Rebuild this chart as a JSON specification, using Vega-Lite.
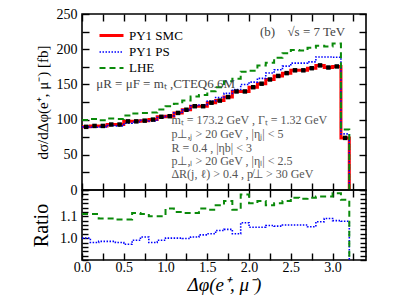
{
  "$schema": "https://vega.github.io/schema/vega-lite/v6.json",
  "padding": {"left": 30, "top": 6, "right": 5, "bottom": 5},
  "datasets": {
    "hist": [
      {"series": "PY1 SMC", "x": 0.0, "mid": 0.05, "v": 89.7},
      {"series": "PY1 SMC", "x": 0.1, "mid": 0.15, "v": 91},
      {"series": "PY1 SMC", "x": 0.2, "mid": 0.25, "v": 91},
      {"series": "PY1 SMC", "x": 0.3, "mid": 0.35, "v": 93},
      {"series": "PY1 SMC", "x": 0.4, "mid": 0.45, "v": 93},
      {"series": "PY1 SMC", "x": 0.5, "mid": 0.55, "v": 97.5},
      {"series": "PY1 SMC", "x": 0.6, "mid": 0.65, "v": 97.5},
      {"series": "PY1 SMC", "x": 0.7, "mid": 0.75, "v": 98.5},
      {"series": "PY1 SMC", "x": 0.8, "mid": 0.85, "v": 100},
      {"series": "PY1 SMC", "x": 0.9, "mid": 0.95, "v": 104},
      {"series": "PY1 SMC", "x": 1.0, "mid": 1.05, "v": 104.8},
      {"series": "PY1 SMC", "x": 1.1, "mid": 1.15, "v": 109.5},
      {"series": "PY1 SMC", "x": 1.2, "mid": 1.25, "v": 114},
      {"series": "PY1 SMC", "x": 1.3, "mid": 1.35, "v": 119},
      {"series": "PY1 SMC", "x": 1.4, "mid": 1.45, "v": 119},
      {"series": "PY1 SMC", "x": 1.5, "mid": 1.55, "v": 124},
      {"series": "PY1 SMC", "x": 1.6, "mid": 1.65, "v": 127},
      {"series": "PY1 SMC", "x": 1.7, "mid": 1.75, "v": 132},
      {"series": "PY1 SMC", "x": 1.8, "mid": 1.85, "v": 140},
      {"series": "PY1 SMC", "x": 1.9, "mid": 1.95, "v": 140},
      {"series": "PY1 SMC", "x": 2.0, "mid": 2.05, "v": 146},
      {"series": "PY1 SMC", "x": 2.1, "mid": 2.15, "v": 151},
      {"series": "PY1 SMC", "x": 2.2, "mid": 2.25, "v": 157},
      {"series": "PY1 SMC", "x": 2.3, "mid": 2.35, "v": 162},
      {"series": "PY1 SMC", "x": 2.4, "mid": 2.45, "v": 166},
      {"series": "PY1 SMC", "x": 2.5, "mid": 2.55, "v": 170},
      {"series": "PY1 SMC", "x": 2.6, "mid": 2.65, "v": 170},
      {"series": "PY1 SMC", "x": 2.7, "mid": 2.75, "v": 173},
      {"series": "PY1 SMC", "x": 2.8, "mid": 2.85, "v": 177},
      {"series": "PY1 SMC", "x": 2.9, "mid": 2.95, "v": 174},
      {"series": "PY1 SMC", "x": 3.0, "mid": 3.05, "v": 175.5},
      {"series": "PY1 SMC", "x": 3.1, "mid": 3.15, "v": 74},
      {"series": "PY1 SMC", "x": 3.2, "v": 0},
      {"series": "PY1 PS", "x": 0.0, "v": 89.7},
      {"series": "PY1 PS", "x": 0.1, "v": 89.2},
      {"series": "PY1 PS", "x": 0.2, "v": 89.6},
      {"series": "PY1 PS", "x": 0.3, "v": 91.6},
      {"series": "PY1 PS", "x": 0.4, "v": 91.1},
      {"series": "PY1 PS", "x": 0.5, "v": 94.8},
      {"series": "PY1 PS", "x": 0.6, "v": 96.5},
      {"series": "PY1 PS", "x": 0.7, "v": 99},
      {"series": "PY1 PS", "x": 0.8, "v": 98},
      {"series": "PY1 PS", "x": 0.9, "v": 103},
      {"series": "PY1 PS", "x": 1.0, "v": 104.8},
      {"series": "PY1 PS", "x": 1.1, "v": 109.5},
      {"series": "PY1 PS", "x": 1.2, "v": 113.8},
      {"series": "PY1 PS", "x": 1.3, "v": 119.6},
      {"series": "PY1 PS", "x": 1.4, "v": 120.8},
      {"series": "PY1 PS", "x": 1.5, "v": 126.5},
      {"series": "PY1 PS", "x": 1.6, "v": 131.4},
      {"series": "PY1 PS", "x": 1.7, "v": 137.3},
      {"series": "PY1 PS", "x": 1.8, "v": 142.8},
      {"series": "PY1 PS", "x": 1.9, "v": 149.8},
      {"series": "PY1 PS", "x": 2.0, "v": 153.3},
      {"series": "PY1 PS", "x": 2.1, "v": 158.6},
      {"series": "PY1 PS", "x": 2.2, "v": 166.1},
      {"series": "PY1 PS", "x": 2.3, "v": 170.9},
      {"series": "PY1 PS", "x": 2.4, "v": 176},
      {"series": "PY1 PS", "x": 2.5, "v": 180.2},
      {"series": "PY1 PS", "x": 2.6, "v": 180.2},
      {"series": "PY1 PS", "x": 2.7, "v": 182},
      {"series": "PY1 PS", "x": 2.8, "v": 189},
      {"series": "PY1 PS", "x": 2.9, "v": 189},
      {"series": "PY1 PS", "x": 3.0, "v": 188.5},
      {"series": "PY1 PS", "x": 3.1, "v": 79.7},
      {"series": "PY1 PS", "x": 3.2, "v": 0},
      {"series": "LHE", "x": 0.0, "v": 99.6},
      {"series": "LHE", "x": 0.1, "v": 101},
      {"series": "LHE", "x": 0.2, "v": 99.2},
      {"series": "LHE", "x": 0.3, "v": 101.4},
      {"series": "LHE", "x": 0.4, "v": 100.9},
      {"series": "LHE", "x": 0.5, "v": 105.8},
      {"series": "LHE", "x": 0.6, "v": 108.7},
      {"series": "LHE", "x": 0.7, "v": 109.3},
      {"series": "LHE", "x": 0.8, "v": 110},
      {"series": "LHE", "x": 0.9, "v": 114.4},
      {"series": "LHE", "x": 1.0, "v": 119},
      {"series": "LHE", "x": 1.1, "v": 122.6},
      {"series": "LHE", "x": 1.2, "v": 127.1},
      {"series": "LHE", "x": 1.3, "v": 132.7},
      {"series": "LHE", "x": 1.4, "v": 135.1},
      {"series": "LHE", "x": 1.5, "v": 140.1},
      {"series": "LHE", "x": 1.6, "v": 146.1},
      {"series": "LHE", "x": 1.7, "v": 154.4},
      {"series": "LHE", "x": 1.8, "v": 158.2},
      {"series": "LHE", "x": 1.9, "v": 168},
      {"series": "LHE", "x": 2.0, "v": 169.4},
      {"series": "LHE", "x": 2.1, "v": 176.7},
      {"series": "LHE", "x": 2.2, "v": 180.6},
      {"series": "LHE", "x": 2.3, "v": 187.9},
      {"series": "LHE", "x": 2.4, "v": 194.2},
      {"series": "LHE", "x": 2.5, "v": 199},
      {"series": "LHE", "x": 2.6, "v": 198},
      {"series": "LHE", "x": 2.7, "v": 202},
      {"series": "LHE", "x": 2.8, "v": 205},
      {"series": "LHE", "x": 2.9, "v": 204},
      {"series": "LHE", "x": 3.0, "v": 208},
      {"series": "LHE", "x": 3.1, "v": 86},
      {"series": "LHE", "x": 3.2, "v": 0}
    ],
    "ratio": [
      {"series": "PY1 PS", "x": 0.0, "r": 1.0},
      {"series": "PY1 PS", "x": 0.1, "r": 0.98},
      {"series": "PY1 PS", "x": 0.2, "r": 0.985},
      {"series": "PY1 PS", "x": 0.3, "r": 0.985},
      {"series": "PY1 PS", "x": 0.4, "r": 0.98},
      {"series": "PY1 PS", "x": 0.5, "r": 0.972},
      {"series": "PY1 PS", "x": 0.6, "r": 0.99},
      {"series": "PY1 PS", "x": 0.7, "r": 1.005},
      {"series": "PY1 PS", "x": 0.8, "r": 0.98},
      {"series": "PY1 PS", "x": 0.9, "r": 0.99},
      {"series": "PY1 PS", "x": 1.0, "r": 1.0},
      {"series": "PY1 PS", "x": 1.1, "r": 1.0},
      {"series": "PY1 PS", "x": 1.2, "r": 0.998},
      {"series": "PY1 PS", "x": 1.3, "r": 1.005},
      {"series": "PY1 PS", "x": 1.4, "r": 1.015},
      {"series": "PY1 PS", "x": 1.5, "r": 1.02},
      {"series": "PY1 PS", "x": 1.6, "r": 1.035},
      {"series": "PY1 PS", "x": 1.7, "r": 1.04},
      {"series": "PY1 PS", "x": 1.8, "r": 1.02},
      {"series": "PY1 PS", "x": 1.9, "r": 1.07},
      {"series": "PY1 PS", "x": 2.0, "r": 1.05},
      {"series": "PY1 PS", "x": 2.1, "r": 1.05},
      {"series": "PY1 PS", "x": 2.2, "r": 1.058},
      {"series": "PY1 PS", "x": 2.3, "r": 1.055},
      {"series": "PY1 PS", "x": 2.4, "r": 1.06},
      {"series": "PY1 PS", "x": 2.5, "r": 1.06},
      {"series": "PY1 PS", "x": 2.6, "r": 1.06},
      {"series": "PY1 PS", "x": 2.7, "r": 1.052},
      {"series": "PY1 PS", "x": 2.8, "r": 1.075},
      {"series": "PY1 PS", "x": 2.9, "r": 1.09},
      {"series": "PY1 PS", "x": 3.0, "r": 1.08},
      {"series": "PY1 PS", "x": 3.1, "r": 1.077},
      {"series": "PY1 PS", "x": 3.2, "r": 0.9},
      {"series": "LHE", "x": 0.0, "r": 1.11},
      {"series": "LHE", "x": 0.1, "r": 1.11},
      {"series": "LHE", "x": 0.2, "r": 1.09},
      {"series": "LHE", "x": 0.3, "r": 1.09},
      {"series": "LHE", "x": 0.4, "r": 1.085},
      {"series": "LHE", "x": 0.5, "r": 1.085},
      {"series": "LHE", "x": 0.6, "r": 1.115},
      {"series": "LHE", "x": 0.7, "r": 1.11},
      {"series": "LHE", "x": 0.8, "r": 1.1},
      {"series": "LHE", "x": 0.9, "r": 1.1},
      {"series": "LHE", "x": 1.0, "r": 1.135},
      {"series": "LHE", "x": 1.1, "r": 1.12},
      {"series": "LHE", "x": 1.2, "r": 1.115},
      {"series": "LHE", "x": 1.3, "r": 1.115},
      {"series": "LHE", "x": 1.4, "r": 1.135},
      {"series": "LHE", "x": 1.5, "r": 1.13},
      {"series": "LHE", "x": 1.6, "r": 1.15},
      {"series": "LHE", "x": 1.7, "r": 1.17},
      {"series": "LHE", "x": 1.8, "r": 1.13},
      {"series": "LHE", "x": 1.9, "r": 1.2},
      {"series": "LHE", "x": 2.0, "r": 1.16},
      {"series": "LHE", "x": 2.1, "r": 1.17},
      {"series": "LHE", "x": 2.2, "r": 1.15},
      {"series": "LHE", "x": 2.3, "r": 1.16},
      {"series": "LHE", "x": 2.4, "r": 1.17},
      {"series": "LHE", "x": 2.5, "r": 1.185},
      {"series": "LHE", "x": 2.6, "r": 1.18},
      {"series": "LHE", "x": 2.7, "r": 1.185},
      {"series": "LHE", "x": 2.8, "r": 1.19},
      {"series": "LHE", "x": 2.9, "r": 1.19},
      {"series": "LHE", "x": 3.0, "r": 1.205},
      {"series": "LHE", "x": 3.1, "r": 1.175},
      {"series": "LHE", "x": 3.2, "r": 0.9}
    ],
    "head": [
      {"x": 2.13, "y": 224, "t": "(b)"},
      {"x": 2.46, "y": 224, "t": "√s = 7 TeV"},
      {"x": 0.17, "y": 151, "t": "μR = μF = mₜ ,CTEQ6.6M"}
    ],
    "block": [
      {"x": 1.07, "y": 99, "t": "mₜ = 173.2 GeV , Γₜ = 1.32 GeV"},
      {"x": 1.07, "y": 80, "t": "p⊥,ⱼ > 20 GeV , |ηⱼ| < 5"},
      {"x": 1.07, "y": 60.3, "t": "R = 0.4 , |ηb| < 3"},
      {"x": 1.07, "y": 41, "t": "p⊥,ₗ > 20 GeV , |ηₗ| < 2.5"},
      {"x": 1.07, "y": 23, "t": "ΔR(j, ℓ) > 0.4 , p̸⊥ > 30 GeV"}
    ]
  },
  "vconcat": [
    {
      "width": 284,
      "height": 176,
      "layer": [
        {
          "data": {"name": "hist"},
          "mark": {"type": "line", "interpolate": "step-after"},
          "encoding": {
            "x": {"field": "x", "type": "quantitative", "scale": {"domain": [0, 3.4], "nice": false},
              "axis": {"orient": "bottom", "values": [0,0.25,0.5,0.75,1,1.25,1.5,1.75,2,2.25,2.5,2.75,3,3.25], "tickSize": -7, "labels": false, "title": null}},
            "y": {"field": "v", "type": "quantitative", "scale": {"domain": [0, 250], "nice": false},
              "axis": {"orient": "left", "values": [0,25,50,75,100,125,150,175,200,225,250], "tickSize": -7, "labelPadding": 12, "labelExpr": "datum.value % 50 == 0 ? datum.label : ''", "title": "dσ/dΔφ(e⁺, μ⁻)  [fb]", "titleFontSize": 15, "titlePadding": 6}},
            "color": {"field": "series", "type": "nominal",
              "scale": {"domain": ["PY1 SMC", "PY1 PS", "LHE"], "range": ["#ff0000", "#0000ff", "#0a8a0a"]},
              "legend": {"orient": "none", "legendX": 22, "legendY": 14, "title": null, "padding": 0, "labelFont": "Liberation Serif", "labelFontSize": 13, "labelColor": "black", "symbolType": "M-2,0H2", "symbolSize": 144, "rowPadding": 2, "labelOffset": 10}},
            "strokeDash": {"field": "series", "type": "nominal",
              "scale": {"domain": ["PY1 SMC", "PY1 PS", "LHE"], "range": [[1, 0], [1.5, 1.5], [6, 4]]}},
            "strokeWidth": {"field": "series", "type": "nominal",
              "scale": {"type": "ordinal", "domain": ["PY1 SMC", "PY1 PS", "LHE"], "range": [3, 1.6, 2]}}
          }
        },
        {
          "data": {"name": "hist"},
          "mark": {"type": "point", "shape": "square", "filled": true, "color": "black", "size": 20, "opacity": 1},
          "encoding": {
            "x": {"field": "mid", "type": "quantitative", "scale": {"domain": [0, 3.4], "nice": false}, "axis": null},
            "y": {"field": "v", "type": "quantitative", "scale": {"domain": [0, 250], "nice": false}, "axis": null}
          }
        },
        {
          "data": {"name": "head"},
          "mark": {"type": "text", "align": "left", "baseline": "middle", "font": "Liberation Serif", "fontSize": 13, "color": "#444444"},
          "encoding": {
            "x": {"field": "x", "type": "quantitative", "scale": {"domain": [0, 3.4], "nice": false}, "axis": null},
            "y": {"field": "y", "type": "quantitative", "scale": {"domain": [0, 250], "nice": false}, "axis": null},
            "text": {"field": "t"}
          }
        },
        {
          "data": {"name": "block"},
          "mark": {"type": "text", "align": "left", "baseline": "middle", "font": "Liberation Serif", "fontSize": 12, "color": "#555555"},
          "encoding": {
            "x": {"field": "x", "type": "quantitative", "scale": {"domain": [0, 3.4], "nice": false}, "axis": null},
            "y": {"field": "y", "type": "quantitative", "scale": {"domain": [0, 250], "nice": false}, "axis": null},
            "text": {"field": "t"}
          }
        },
        {
          "data": {"name": "hist"},
          "mark": {"type": "point", "opacity": 0},
          "encoding": {
            "x": {"field": "x", "type": "quantitative", "scale": {"domain": [0, 3.4], "nice": false},
              "axis": {"orient": "top", "values": [0,0.25,0.5,0.75,1,1.25,1.5,1.75,2,2.25,2.5,2.75,3,3.25], "tickSize": -7, "labels": false, "title": null}},
            "y": {"field": "v", "type": "quantitative", "scale": {"domain": [0, 250], "nice": false},
              "axis": {"orient": "right", "values": [0,25,50,75,100,125,150,175,200,225,250], "tickSize": -7, "labels": false, "title": null}}
          }
        }
      ],
      "resolve": {"axis": {"x": "independent", "y": "independent"}}
    },
    {
      "width": 284,
      "height": 70,
      "layer": [
        {
          "data": {"name": "ratio"},
          "mark": {"type": "line", "interpolate": "step-after"},
          "encoding": {
            "x": {"field": "x", "type": "quantitative", "scale": {"domain": [0, 3.4], "nice": false},
              "axis": {"orient": "bottom", "values": [0,0.25,0.5,0.75,1,1.25,1.5,1.75,2,2.25,2.5,2.75,3,3.25], "tickSize": -7, "labelPadding": 7, "labelExpr": "(datum.value * 4) % 2 == 0 ? format(datum.value, '.1f') : ''", "title": "Δφ(e⁺, μ⁻)", "titleFontSize": 19, "titleFontStyle": "italic", "titlePadding": 1}},
            "y": {"field": "r", "type": "quantitative", "scale": {"domain": [0.9, 1.22], "nice": false, "zero": false},
              "axis": {"orient": "left", "values": [0.9,0.92,0.94,0.96,0.98,1,1.02,1.04,1.06,1.08,1.1,1.12,1.14,1.16,1.18,1.2,1.22], "tickSize": -6, "labelPadding": 11, "labelExpr": "datum.value == 1 || datum.value == 1.1 ? format(datum.value, '.1f') : ''", "title": "Ratio", "titleFontSize": 20, "titlePadding": 8}},
            "color": {"field": "series", "type": "nominal",
              "scale": {"domain": ["PY1 SMC", "PY1 PS", "LHE"], "range": ["#ff0000", "#0000ff", "#0a8a0a"]}, "legend": null},
            "strokeDash": {"field": "series", "type": "nominal",
              "scale": {"domain": ["PY1 SMC", "PY1 PS", "LHE"], "range": [[1, 0], [1.5, 1.5], [6, 4]]}, "legend": null},
            "strokeWidth": {"field": "series", "type": "nominal",
              "scale": {"type": "ordinal", "domain": ["PY1 SMC", "PY1 PS", "LHE"], "range": [3, 1.6, 2]}, "legend": null}
          }
        },
        {
          "mark": {"type": "rule", "color": "#ff0000", "strokeWidth": 2},
          "encoding": {
            "y": {"datum": 1, "type": "quantitative", "scale": {"domain": [0.9, 1.22], "nice": false, "zero": false}, "axis": null}
          }
        },
        {
          "data": {"name": "ratio"},
          "mark": {"type": "point", "opacity": 0},
          "encoding": {
            "x": {"field": "x", "type": "quantitative", "scale": {"domain": [0, 3.4], "nice": false},
              "axis": {"orient": "top", "values": [0,0.25,0.5,0.75,1,1.25,1.5,1.75,2,2.25,2.5,2.75,3,3.25], "tickSize": -7, "labels": false, "title": null}},
            "y": {"field": "r", "type": "quantitative", "scale": {"domain": [0.9, 1.22], "nice": false, "zero": false},
              "axis": {"orient": "right", "values": [0.9,0.92,0.94,0.96,0.98,1,1.02,1.04,1.06,1.08,1.1,1.12,1.14,1.16,1.18,1.2,1.22], "tickSize": -6, "labels": false, "title": null}}
          }
        }
      ],
      "resolve": {"axis": {"x": "independent", "y": "independent"}}
    }
  ],
  "spacing": 0,
  "bounds": "flush",
  "config": {
    "view": {"stroke": "black", "strokeWidth": 1.6},
    "axis": {"grid": false, "domain": false, "tickColor": "black", "tickWidth": 1.4, "labelFont": "Liberation Serif", "labelFontSize": 14, "labelColor": "black", "titleFont": "Liberation Serif", "titleColor": "black", "titleFontWeight": "normal", "labelFlush": false, "labelOverlap": false, "labelBound": false}
  }
}
